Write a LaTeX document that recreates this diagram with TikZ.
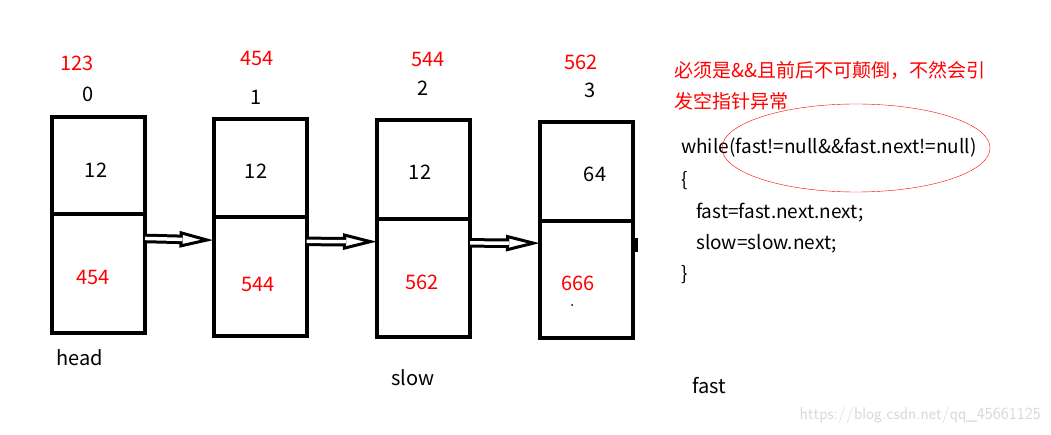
\documentclass[tikz,border=0pt]{standalone}
\usepackage{fontspec}
\setmainfont{Noto Sans CJK SC}
\usetikzlibrary{arrows.meta}

\begin{document}
\begin{tikzpicture}[
   x=1pt,y=-1pt,
   font=\fontsize{20}{23}\selectfont,
   cell/.style={draw,line width=4pt,minimum width=93pt,inner sep=0pt,outer sep=0pt},
   addr/.style={text=red},
   code/.style={anchor=west,inner sep=0pt,font=\fontsize{19}{22}\selectfont},
   tip/.style={line width=0.2pt,-{Triangle[open,length=34pt,width=16pt,line width=3pt]}},
   link/.style={line width=3pt,double=white,double distance=3.5pt,shorten >=31pt},
   every node/.style={inner sep=1pt}]
\useasboundingbox[fill=white] (0,0) rectangle (1051,435);
% list nodes: data cell on top, next cell below
\node[cell,minimum height=97pt]  (d0) at (98.5,165.5) {};
\node[cell,minimum height=119pt] (n0) at (98.5,273.5) {};
\node[cell,minimum height=98pt]  (d1) at (260,168) {};
\node[cell,minimum height=119pt] (n1) at (260,276.5) {};
\node[cell,minimum height=99pt]  (d2) at (423.5,169.5) {};
\node[cell,minimum height=118pt] (n2) at (423.5,278) {};
\node[cell,minimum height=99pt]  (d3) at (586.5,171.5) {};
\node[cell,minimum height=117pt] (n3) at (586.5,279.5) {};
% addresses and indices
\node[addr] (a0) at (77,63) {123};
\node[addr] (a1) at (257,59) {454};
\node[addr] (a2) at (428,60) {544};
\node[addr] (a3) at (581,62) {562};
\node (i0) at (88,94) {0};
\node (i1) at (256,97) {1};
\node (i2) at (423,88) {2};
\node (i3) at (590,90) {3};
% values
\node (v0) at (96,170) {12};
\node (v1) at (256,171) {12};
\node (v2) at (420,172) {12};
\node (v3) at (595,174) {64};
\node[addr] (p0) at (93,278) {454};
\node[addr] (p1) at (258,284) {544};
\node[addr] (p2) at (422,282) {562};
\node[addr] (p3) at (578,283) {666};
\fill (572,305) circle (1pt);
% pointers
\draw[tip]  (n0.37) -- (n1.142);
\draw[link] (n0.37) -- (n1.142);
\draw[tip]  (n1.37) -- (n2.142);
\draw[link] (n1.37) -- (n2.142);
\draw[tip]  (n2.37) -- (n3.142);
\draw[link] (n2.37) -- (n3.142);
\fill (n3.37) ++(0,-6) rectangle ++(5,14);
% names
\node (head) at (80,358) {head};
\node (slow) at (413,378) {slow};
\node (fast) at (709,386) {fast};
% note and code
\node[code,text=red] (note1) at (674,70) {必须是\&\&且前后不可颠倒，不然会引};
\node[code,text=red] (note2) at (674,101) {发空指针异常};
\node[code] (c1) at (681,148) {while(fast!=null\&\&fast.next!=null)};
\node[code] (c2) at (681,181) {\{};
\node[code] (c3) at (696,213) {fast=fast.next.next;};
\node[code] (c4) at (696,244) {slow=slow.next;};
\node[code] (c5) at (681,275) {\}};
\draw[red,thin] (856,148) ellipse [x radius=134,y radius=44];
\node[code,anchor=east,text=black!15,font=\fontsize{17}{20}\selectfont\sffamily] (mark) at (1041,415) {https://blog.csdn.net/qq\_45661125};
\end{tikzpicture}
\end{document}
